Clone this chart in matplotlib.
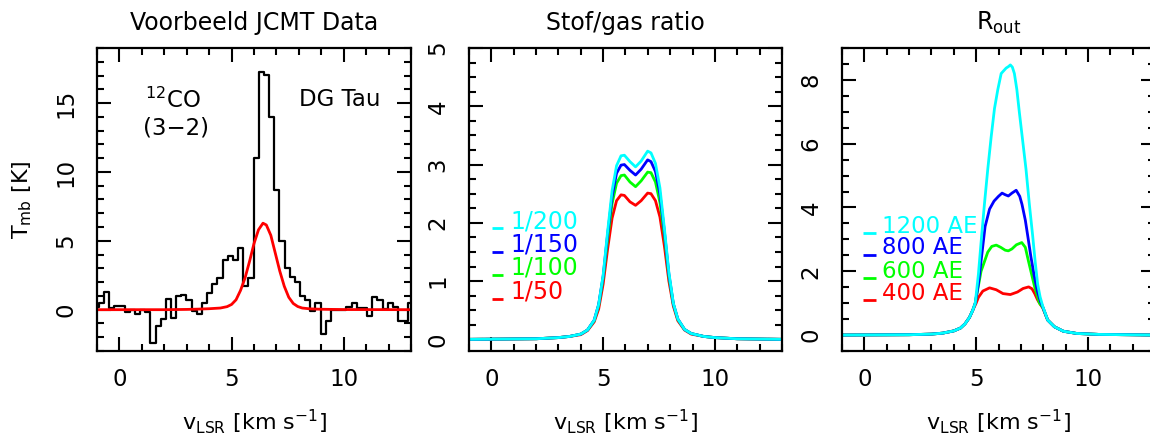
import numpy as np
import matplotlib
matplotlib.use("Agg")
import matplotlib.pyplot as plt
from matplotlib.ticker import MultipleLocator

# ---------------- data ----------------
# Panel 1: JCMT 12CO(3-2) spectrum of DG Tau (channel width and start in km/s)
chan_start = -1.035
chan_width = 0.23
spec_T = [0.2, 0.5, 1.25, 0.1, 0.3, 0.3, -0.2, 0.0, -0.3, 0.0,
          -0.2, -2.4, -1.2, -0.7, 0.75, -0.6, 1.0, 1.1, 0.7, -0.1,
          -0.3, 0.5, 1.2, 1.9, 2.3, 3.6, 3.9, 3.6, 4.5, 1.7,
          2.3, 11.0, 17.25, 17.05, 14.0, 8.7, 5.0, 3.0, 2.4, 2.0,
          1.0, 0.7, -0.1, 0.45, -1.8, -0.85, 0.0, 0.0, 0.0, 0.2,
          0.5, 0.1, 0.1, -0.45, 0.9, 0.7, 0.05, 0.45, 0.2, -0.8,
          -0.8, 0.5]
model_v = [-1, 2, 3, 3.5, 4.0, 4.5, 4.8, 5.0, 5.2, 5.4, 5.6, 5.8, 6.0, 6.2,
           6.4, 6.55, 6.75, 6.95, 7.15, 7.35, 7.55, 7.75, 7.95, 8.15, 8.5, 9.0, 10.0, 13.0]
model_T = [0.0, 0.0, 0.02, 0.04, 0.07, 0.12, 0.22, 0.38, 0.72, 1.4, 2.3, 3.5, 4.8, 5.8,
           6.28, 6.15, 5.4, 4.1, 2.8, 1.7, 0.9, 0.45, 0.23, 0.12, 0.06, 0.03, 0.01, 0.0]

# Panel 2: dust/gas ratio models
ratio_v = [-1, 2, 3, 3.5, 4.0, 4.3, 4.6, 4.8, 5.0, 5.2, 5.4, 5.6, 5.8, 5.95, 6.2, 6.45,
           6.7, 6.99, 7.14, 7.34, 7.54, 7.74, 7.94, 8.14, 8.34, 8.64, 8.94, 9.5, 10, 11, 13]
ratio_labels = ["1/50", "1/100", "1/150", "1/200"]
ratio_T = {
    "1/50":  [0, 0.01, 0.03, 0.05, 0.08, 0.15, 0.30, 0.52, 0.95, 1.55, 2.08, 2.38, 2.48, 2.47, 2.36, 2.30,
              2.38, 2.51, 2.50, 2.38, 2.10, 1.60, 1.00, 0.57, 0.32, 0.16, 0.09, 0.05, 0.03, 0.01, 0],
    "1/100": [0, 0.01, 0.03, 0.05, 0.09, 0.16, 0.32, 0.58, 1.05, 1.72, 2.33, 2.68, 2.81, 2.82, 2.70, 2.62,
              2.72, 2.87, 2.86, 2.70, 2.35, 1.78, 1.08, 0.60, 0.34, 0.17, 0.10, 0.05, 0.03, 0.01, 0],
    "1/150": [0, 0.01, 0.03, 0.05, 0.09, 0.16, 0.33, 0.60, 1.08, 1.80, 2.45, 2.85, 2.99, 3.00, 2.90, 2.82,
              2.92, 3.08, 3.05, 2.88, 2.50, 1.85, 1.12, 0.61, 0.35, 0.17, 0.10, 0.05, 0.03, 0.01, 0],
    "1/200": [0, 0.01, 0.03, 0.05, 0.09, 0.16, 0.33, 0.60, 1.10, 1.85, 2.55, 2.98, 3.15, 3.16, 3.05, 2.96,
              3.06, 3.23, 3.20, 3.02, 2.60, 1.90, 1.15, 0.62, 0.35, 0.17, 0.10, 0.05, 0.03, 0.01, 0],
}
ratio_colors = {"1/50": "#ff0000", "1/100": "#00ff00", "1/150": "#0000ff", "1/200": "#00ffff"}

# Panel 3: outer radius models
wingL_v = [-1, 2, 3, 3.5, 4.0, 4.3, 4.5, 4.7, 4.85]
wingL_T = [0, 0.01, 0.03, 0.06, 0.13, 0.22, 0.35, 0.55, 0.78]
wingR_v = [8.2, 8.5, 8.9, 9.5, 10.5, 13]
wingR_T = [0.47, 0.26, 0.12, 0.05, 0.02, 0.0]
rout_labels = ["400 AE", "600 AE", "800 AE", "1200 AE"]
rout_core_v = {
    "400 AE":  [5.0, 5.1, 5.3, 5.6, 5.9, 6.2, 6.53, 6.85, 7.1, 7.35, 7.5, 7.62, 7.75, 7.88, 7.98],
    "600 AE":  [4.96, 5.22, 5.52, 5.7, 5.9, 6.1, 6.3, 6.44, 6.6, 6.8, 7.04, 7.2, 7.33, 7.5, 7.62, 7.83, 7.98],
    "800 AE":  [4.96, 5.1, 5.2, 5.4, 5.6, 5.8, 6.0, 6.16, 6.3, 6.44, 6.6, 6.79, 6.95, 7.05, 7.2, 7.31,
                7.45, 7.6, 7.75, 7.88, 7.98],
    "1200 AE": [4.96, 5.1, 5.22, 5.37, 5.52, 5.67, 5.82, 5.97, 6.12, 6.34, 6.45, 6.53, 6.62, 6.71, 6.82,
                6.93, 7.08, 7.23, 7.38, 7.53, 7.64, 7.75, 7.86, 7.98],
}
rout_core_T = {
    "400 AE":  [1.0, 1.18, 1.38, 1.48, 1.42, 1.30, 1.27, 1.35, 1.46, 1.51, 1.45, 1.30, 1.10, 0.95, 0.85],
    "600 AE":  [1.0, 2.0, 2.6, 2.78, 2.82, 2.75, 2.66, 2.64, 2.70, 2.83, 2.90, 2.75, 2.35, 1.85, 1.5, 1.0, 0.87],
    "800 AE":  [1.0, 1.6, 2.2, 3.4, 3.95, 4.2, 4.35, 4.45, 4.40, 4.36, 4.45, 4.54, 4.35, 4.1, 3.6, 3.1,
                2.45, 1.85, 1.35, 1.05, 0.88],
    "1200 AE": [1.0, 1.9, 2.9, 4.1, 5.2, 6.2, 7.1, 7.7, 8.2, 8.37, 8.42, 8.47, 8.4, 8.2, 7.7,
                7.0, 6.1, 5.2, 4.1, 3.1, 2.3, 1.6, 1.2, 0.9],
}
rout_colors = {"400 AE": "#ff0000", "600 AE": "#00ff00", "800 AE": "#0000ff", "1200 AE": "#00ffff"}

# ---------------- figure ----------------
plt.rcParams['font.family'] = ['DejaVu Sans']
plt.rcParams['mathtext.default'] = 'regular'
W, H = 1150, 436
fig = plt.figure(figsize=(W / 100, H / 100), dpi=100)

def px_axes(x0, x1, y0, y1):
    return fig.add_axes([x0 / W, 1 - y1 / H, (x1 - x0) / W, (y1 - y0) / H])

axL = px_axes(97, 411, 48, 351)
axM = px_axes(469, 782, 48, 351)
axR = px_axes(842, 1155, 48, 351)

def style(ax, ymaj, ymin):
    ax.set_xlim(-1, 13)
    ax.xaxis.set_major_locator(MultipleLocator(5))
    ax.xaxis.set_minor_locator(MultipleLocator(1))
    ax.yaxis.set_major_locator(MultipleLocator(ymaj))
    ax.yaxis.set_minor_locator(MultipleLocator(ymin))
    ax.tick_params(which='both', direction='in', top=True, right=True, width=1.5, color='black')
    ax.tick_params(which='major', length=10)
    ax.tick_params(which='minor', length=5)
    ax.tick_params(axis='x', which='major', labelsize=16.5, pad=12)
    ax.tick_params(axis='y', which='major', labelsize=16.5, pad=14, labelrotation=90)
    for lab in ax.get_yticklabels():
        lab.set_va('center')
    for s in ax.spines.values():
        s.set_linewidth(1.6)
    ax.set_xlabel(r'v$_{\rm LSR}$ [km s$^{-1}$]', fontsize=16)
    ax.xaxis.set_label_coords(0.5, -0.185)

# Panel 1
centers = chan_start + chan_width * np.arange(len(spec_T))
axL.step(centers, spec_T, where='mid', color='black', lw=1.6)
axL.plot(model_v, model_T, color='#ff0000', lw=2.0)
axL.set_ylim(-3, 19)
style(axL, 5, 1)
axL.set_title('Voorbeeld JCMT Data', fontsize=17, pad=13)
axL.set_ylabel(r'T$_{\rm mb}$ [K]', fontsize=16)
axL.yaxis.set_label_coords(-0.2, 0.5)
axL.text(0.153, 0.802, r'$^{12}$CO', transform=axL.transAxes, fontsize=16.5, ha='left', va='baseline')
axL.text(0.146, 0.715, '(3\u22122)', transform=axL.transAxes, fontsize=16.5, ha='left', va='baseline')
axL.text(0.643, 0.809, 'DG Tau', transform=axL.transAxes, fontsize=16.5, ha='left', va='baseline')

# Panel 2
for lab in ratio_labels:
    axM.plot(ratio_v, ratio_T[lab], color=ratio_colors[lab], lw=2.0)
axM.set_ylim(-0.2, 5)
style(axM, 1, 0.25)
axM.set_title('Stof/gas ratio', fontsize=17, pad=13)
leg_y = [0.195, 0.274, 0.350, 0.429]
for lab, yy in zip(ratio_labels, leg_y):
    axM.plot([0.073, 0.109], [yy - 0.023, yy - 0.023], transform=axM.transAxes,
             color=ratio_colors[lab], lw=2.0, solid_capstyle='butt')
    axM.text(0.131, yy, lab, transform=axM.transAxes, fontsize=17, color=ratio_colors[lab],
             ha='left', va='center')

# Panel 3
for lab in rout_labels:
    v = wingL_v + rout_core_v[lab] + wingR_v
    t = wingL_T + rout_core_T[lab] + wingR_T
    axR.plot(v, t, color=rout_colors[lab], lw=2.0)
axR.set_ylim(-0.5, 9)
style(axR, 2, 0.5)
axR.set_title(r'R$_{\rm out}$', fontsize=17, pad=13)
leg_y = [0.191, 0.264, 0.340, 0.4125]
for lab, yy in zip(rout_labels, leg_y):
    axR.plot([0.067, 0.109], [yy - 0.023, yy - 0.023], transform=axR.transAxes,
             color=rout_colors[lab], lw=2.0, solid_capstyle='butt')
    axR.text(0.128, yy, lab, transform=axR.transAxes, fontsize=16.5, color=rout_colors[lab],
             ha='left', va='center')

fig.savefig('out.png', dpi=100)
